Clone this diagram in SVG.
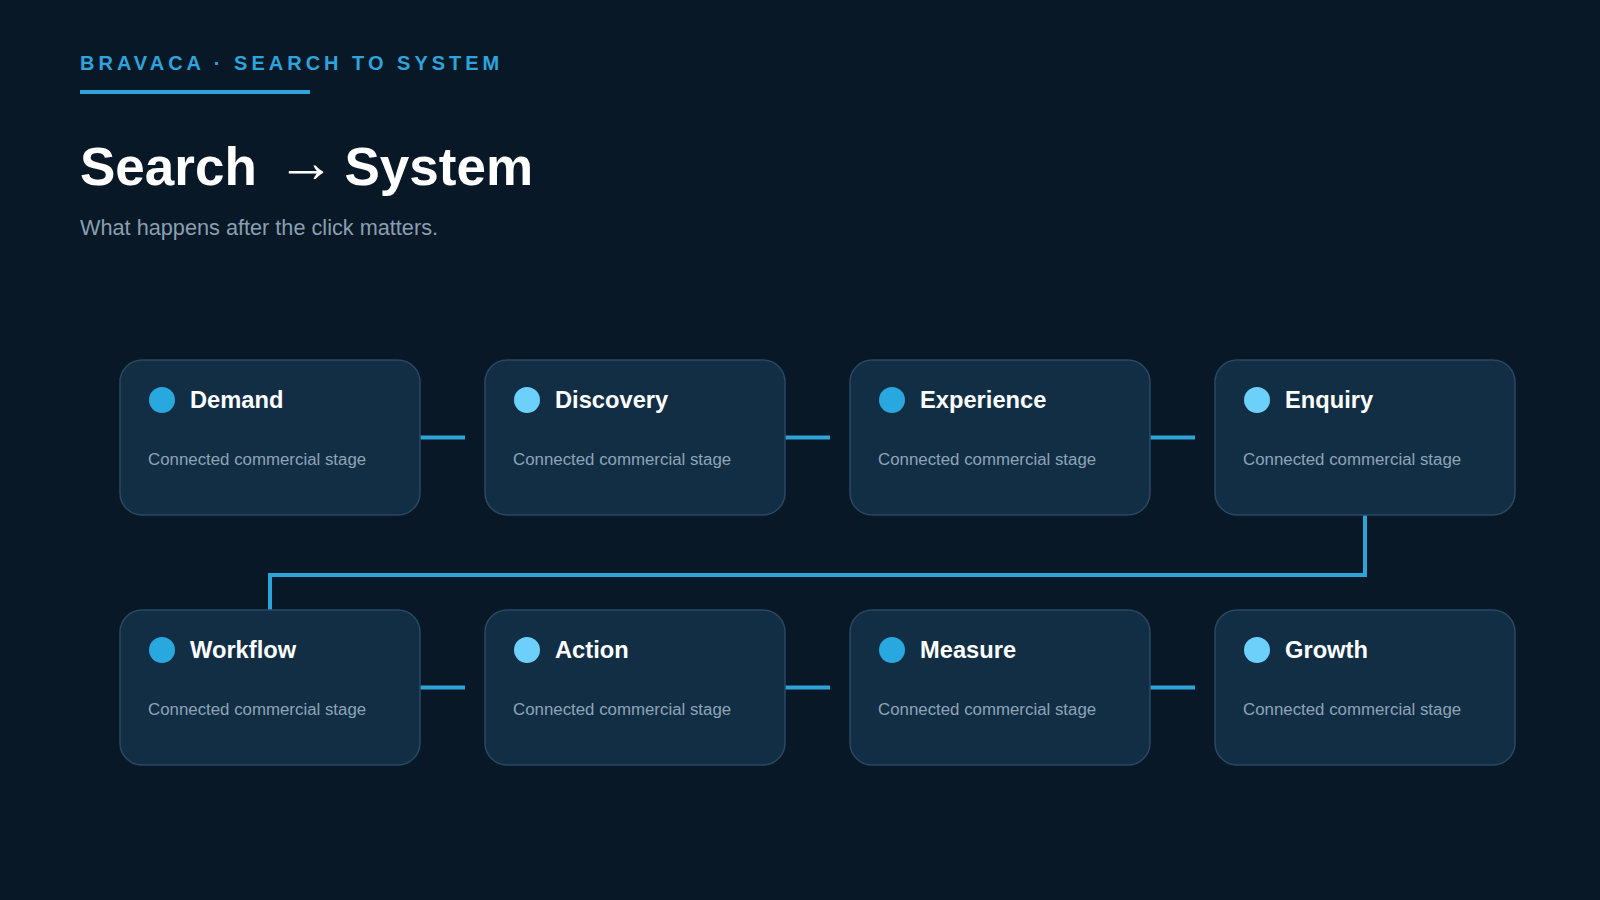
<svg xmlns="http://www.w3.org/2000/svg" width="1600" height="900" viewBox="0 0 1600 900">
  <style>
    text { font-family: "Liberation Sans", Arial, sans-serif; }
    .kicker { font-size: 20px; font-weight: bold; fill: #2ea3dc; letter-spacing: 4px; }
    .title { font-size: 53px; font-weight: bold; fill: #ffffff; }
    .arrow { font-size: 58px; }
    .sub { font-size: 21.7px; fill: #8a9fb1; }
    .card { fill: #122e45; stroke: #294862; stroke-width: 1.5; }
    .dotA { fill: #29a8e0; }
    .dotB { fill: #6dd0fb; }
    .name { font-size: 23.7px; font-weight: bold; fill: #ffffff; }
    .desc { font-size: 16.85px; fill: #8ea4b7; }
    .conn { fill: none; stroke: #2ea3d9; stroke-width: 4; }
  </style>
  <rect width="1600" height="900" fill="#081826"/>

  <g id="header">
    <text class="kicker" x="80" y="70">BRAVACA · SEARCH TO SYSTEM</text>
    <rect x="80" y="90" width="230" height="4" fill="#2ea3dc"/>
    <text class="title" y="185"><tspan x="80">Search</tspan><tspan class="arrow" x="277" y="181.5">→</tspan><tspan x="344.5" y="185">System</tspan></text>
    <text class="sub" x="80" y="235">What happens after the click matters.</text>
  </g>

  <g id="connectors">
    <line class="conn" x1="420" y1="437.5" x2="465" y2="437.5"/>
    <line class="conn" x1="785" y1="437.5" x2="830" y2="437.5"/>
    <line class="conn" x1="1150" y1="437.5" x2="1195" y2="437.5"/>
    <polyline class="conn" points="1365,515 1365,575 270,575 270,610"/>
    <line class="conn" x1="420" y1="687.5" x2="465" y2="687.5"/>
    <line class="conn" x1="785" y1="687.5" x2="830" y2="687.5"/>
    <line class="conn" x1="1150" y1="687.5" x2="1195" y2="687.5"/>
  </g>

  <g id="demand">
    <rect class="card" x="120" y="360" width="300" height="155" rx="22"/>
    <circle class="dotA" cx="162" cy="400" r="13"/>
    <text class="name" x="190" y="408">Demand</text>
    <text class="desc" x="148" y="465">Connected commercial stage</text>
  </g>
  <g id="discovery">
    <rect class="card" x="485" y="360" width="300" height="155" rx="22"/>
    <circle class="dotB" cx="527" cy="400" r="13"/>
    <text class="name" x="555" y="408">Discovery</text>
    <text class="desc" x="513" y="465">Connected commercial stage</text>
  </g>
  <g id="experience">
    <rect class="card" x="850" y="360" width="300" height="155" rx="22"/>
    <circle class="dotA" cx="892" cy="400" r="13"/>
    <text class="name" x="920" y="408">Experience</text>
    <text class="desc" x="878" y="465">Connected commercial stage</text>
  </g>
  <g id="enquiry">
    <rect class="card" x="1215" y="360" width="300" height="155" rx="22"/>
    <circle class="dotB" cx="1257" cy="400" r="13"/>
    <text class="name" x="1285" y="408">Enquiry</text>
    <text class="desc" x="1243" y="465">Connected commercial stage</text>
  </g>

  <g id="workflow">
    <rect class="card" x="120" y="610" width="300" height="155" rx="22"/>
    <circle class="dotA" cx="162" cy="650" r="13"/>
    <text class="name" x="190" y="658">Workflow</text>
    <text class="desc" x="148" y="715">Connected commercial stage</text>
  </g>
  <g id="action">
    <rect class="card" x="485" y="610" width="300" height="155" rx="22"/>
    <circle class="dotB" cx="527" cy="650" r="13"/>
    <text class="name" x="555" y="658">Action</text>
    <text class="desc" x="513" y="715">Connected commercial stage</text>
  </g>
  <g id="measure">
    <rect class="card" x="850" y="610" width="300" height="155" rx="22"/>
    <circle class="dotA" cx="892" cy="650" r="13"/>
    <text class="name" x="920" y="658">Measure</text>
    <text class="desc" x="878" y="715">Connected commercial stage</text>
  </g>
  <g id="growth">
    <rect class="card" x="1215" y="610" width="300" height="155" rx="22"/>
    <circle class="dotB" cx="1257" cy="650" r="13"/>
    <text class="name" x="1285" y="658">Growth</text>
    <text class="desc" x="1243" y="715">Connected commercial stage</text>
  </g>
</svg>
